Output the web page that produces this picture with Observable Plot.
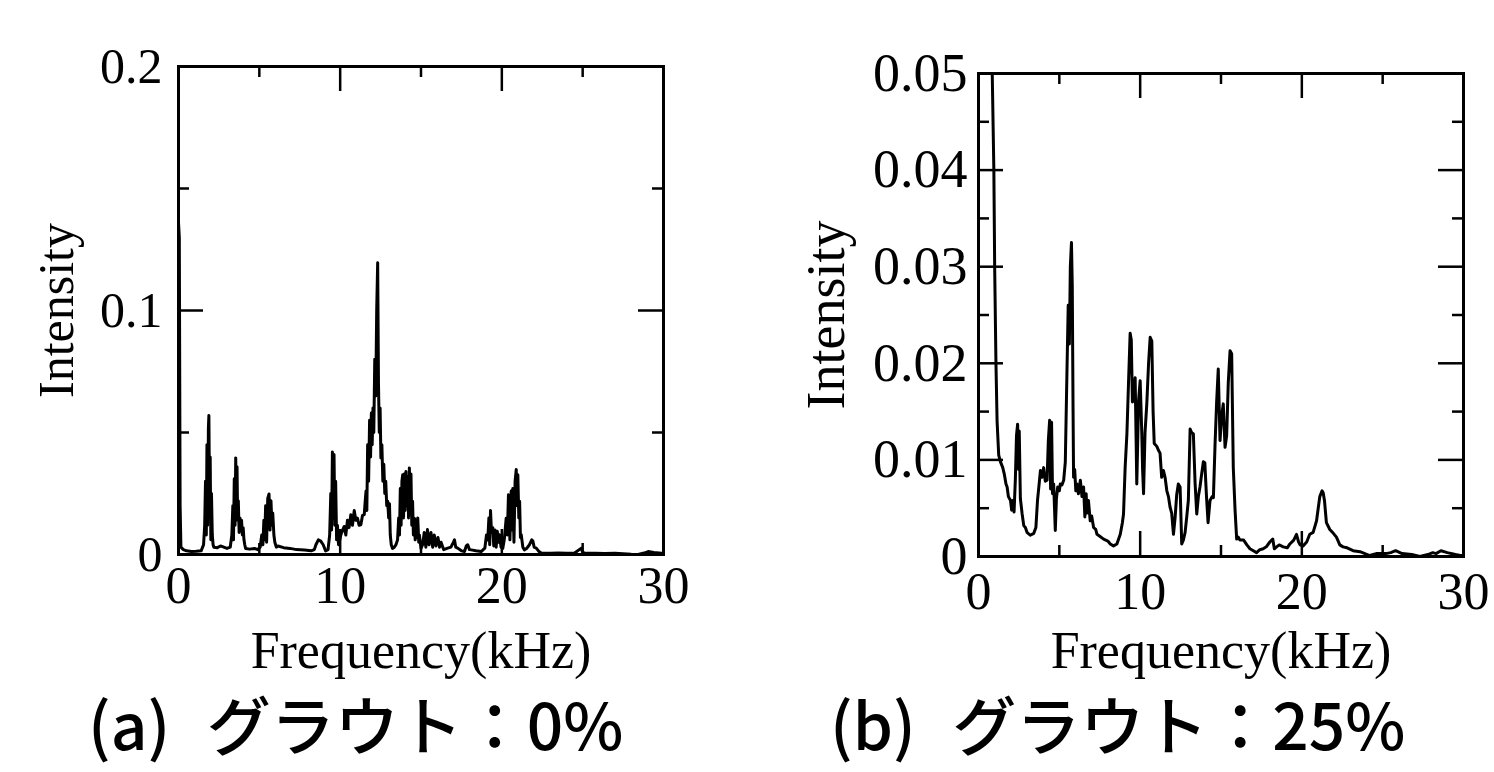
<!DOCTYPE html>
<html>
<head>
<meta charset="utf-8">
<script src="https://cdn.jsdelivr.net/npm/d3@7"></script>
<script src="https://cdn.jsdelivr.net/npm/@observablehq/plot@0.6"></script>
<style>
html, body { margin: 0; padding: 0; background: #fff; }
#wrap { position: relative; width: 1494px; height: 772px; overflow: hidden; background: #fff; }
.panel { position: absolute; top: 0; }
.cap { position: absolute; font-family: "Noto Sans CJK JP", sans-serif; font-weight: 500; font-size: 64px; line-height: 0.8; white-space: nowrap; color: #000; word-spacing: 22px; }
</style>
</head>
<body>
<div id="wrap">
  <div id="pa" class="panel" style="left:0px"></div>
  <div id="pb" class="panel" style="left:747px"></div>
  <div class="cap" style="left:88px; top:697px">(a) グラウト：0%</div>
  <div class="cap" style="left:830px; top:697px">(b) グラウト：25%</div>
</div>
<script>
// ---- data (frequency kHz, intensity) ----
const spectrumA = [
[0,0.136],[0.05,0.13],[0.1,0.02],[0.15,0.003],[0.3,0.002],[0.5,0.0015],[0.8,0.0012],[1.1,0.0013],[1.4,0.0015],[1.55,0.004],
[1.62,0.012],[1.67,0.03],[1.72,0.008],[1.76,0.045],[1.8,0.012],[1.85,0.052],[1.88,0.057],[1.92,0.02],[1.96,0.04],[2.0,0.006],[2.04,0.025],[2.09,0.008],[2.14,0.004],[2.19,0.003],
[2.4,0.0028],[2.6,0.0035],[2.8,0.003],[3.0,0.0025],[3.2,0.003],
[3.3,0.008],[3.36,0.02],[3.4,0.006],[3.45,0.031],[3.5,0.012],[3.54,0.0396],[3.58,0.018],[3.62,0.036],[3.66,0.014],[3.7,0.022],[3.75,0.009],[3.8,0.015],[3.85,0.01],[3.9,0.014],[3.95,0.008],[4.0,0.011],[4.05,0.006],[4.1,0.004],[4.15,0.0025],
[4.4,0.0022],[4.7,0.0025],[4.9,0.002],[5.05,0.003],
[5.15,0.008],[5.22,0.004],[5.28,0.014],[5.33,0.006],[5.39,0.02],[5.45,0.005],[5.52,0.023],[5.6,0.0248],[5.66,0.01],[5.72,0.022],[5.78,0.012],[5.83,0.017],[5.9,0.008],[5.96,0.005],[6.05,0.003],[6.15,0.0035],
[6.5,0.0028],[6.9,0.0025],[7.3,0.002],[7.8,0.0018],[8.2,0.0015],[8.4,0.002],
[8.5,0.004],[8.65,0.006],[8.8,0.0055],[8.95,0.004],[9.1,0.0015],[9.25,0.002],
[9.35,0.008],[9.42,0.025],[9.47,0.01],[9.52,0.042],[9.57,0.015],[9.62,0.041],[9.67,0.012],[9.72,0.03],[9.78,0.006],[9.83,0.012],[9.9,0.004],[9.96,0.0055],[10.04,0.008],
[10.15,0.01],[10.25,0.0115],[10.35,0.008],[10.45,0.014],[10.55,0.011],[10.66,0.0163],[10.76,0.012],[10.87,0.018],[10.97,0.014],[11.07,0.0149],[11.17,0.012],[11.28,0.0122],[11.38,0.016],[11.49,0.0163],[11.55,0.022],[11.6,0.026],[11.65,0.018],[11.7,0.045],[11.76,0.03],[11.82,0.055],[11.88,0.04],[11.93,0.058],[11.98,0.045],[12.03,0.06],[12.08,0.05],[12.14,0.08],[12.2,0.065],[12.26,0.1],[12.32,0.1196],[12.37,0.07],[12.42,0.05],[12.47,0.06],[12.52,0.0396],[12.58,0.045],[12.64,0.03],[12.7,0.037],[12.76,0.025],[12.82,0.03],[12.88,0.02],[12.94,0.0218],[13.0,0.015],[13.05,0.0208],[13.1,0.008],[13.16,0.004],[13.24,0.0025],[13.35,0.003],[13.45,0.004],[13.55,0.006],
[13.62,0.015],[13.67,0.008],[13.72,0.027],[13.77,0.012],[13.82,0.03],[13.87,0.0327],[13.92,0.015],[13.97,0.033],[14.02,0.018],[14.07,0.034],[14.12,0.02],[14.18,0.032],[14.23,0.015],[14.28,0.0355],[14.33,0.02],[14.38,0.033],[14.43,0.012],[14.48,0.0218],[14.53,0.008],[14.59,0.0149],[14.64,0.006],[14.7,0.014],[14.75,0.007],[14.8,0.015],[14.86,0.005],[14.9,0.008],[15.0,0.0025],
[15.1,0.004],[15.2,0.009],[15.3,0.003],[15.4,0.0102],[15.5,0.004],[15.62,0.009],[15.72,0.003],[15.82,0.008],[15.93,0.0035],[16.05,0.007],[16.15,0.003],[16.24,0.005],[16.4,0.002],[16.65,0.0026],[16.85,0.003],[17.0,0.005],[17.07,0.006],[17.15,0.003],[17.27,0.0026],[17.5,0.0015],[17.69,0.0012],[17.8,0.0035],[17.89,0.004],[18.0,0.002],[18.1,0.0019],[18.4,0.0015],[18.72,0.0012],[18.95,0.0026],
[19.05,0.008],[19.13,0.006],[19.2,0.015],[19.25,0.004],[19.3,0.018],[19.36,0.009],[19.44,0.011],[19.5,0.0035],[19.58,0.01],[19.65,0.003],[19.72,0.0095],[19.8,0.005],[19.86,0.0081],[19.95,0.003],[20.06,0.0026],[20.15,0.006],[20.27,0.0149],[20.34,0.008],[20.41,0.0245],[20.5,0.006],[20.58,0.026],[20.63,0.01],[20.68,0.027],[20.75,0.005],[20.82,0.03],[20.89,0.0348],[20.95,0.02],[20.99,0.0327],[21.05,0.015],[21.1,0.0218],[21.15,0.007],[21.2,0.0081],[21.3,0.003],[21.4,0.0019],[21.55,0.0026],[21.71,0.004],[21.85,0.006],[21.92,0.0055],[22.0,0.003],[22.13,0.0026],[22.3,0.0012],[22.44,0.0006],
[23.0,0.0005],[23.5,0.0006],[24.0,0.0005],[24.5,0.0006],[24.92,0.0026],[25.0,0.0008],[25.12,0.0006],[25.8,0.0005],[26.36,0.0004],[27.0,0.0005],[27.5,0.0003],[28.0,0.0001],[28.43,0.0],[28.8,0.0006],[29.05,0.0012],[29.4,0.0008],[29.88,0.0005],[30,0.0004]
];

const spectrumB = [
[0,0.3],[0.4,0.2],[0.7,0.08],[0.85,0.05],[0.95,0.04],[1.0,0.03],[1.08,0.02],[1.15,0.014],[1.25,0.0105],[1.36,0.0098],[1.5,0.0092],[1.6,0.0085],[1.7,0.0075],[1.77,0.0072],[1.85,0.0062],[1.98,0.0058],[2.05,0.0048],[2.12,0.0058],[2.2,0.0046],[2.28,0.008],[2.35,0.0125],[2.42,0.0137],[2.48,0.009],[2.52,0.013],[2.59,0.006],[2.7,0.0044],[2.8,0.0032],[2.9,0.003],[3.0,0.0025],[3.2,0.0022],[3.42,0.0024],[3.55,0.003],[3.65,0.0058],[3.75,0.0075],[3.83,0.0089],[3.93,0.0082],[4.03,0.0092],[4.13,0.0078],[4.24,0.0079],[4.32,0.012],[4.4,0.0141],[4.46,0.007],[4.52,0.0139],[4.58,0.0065],[4.65,0.0075],[4.75,0.0027],[4.82,0.006],[4.9,0.0072],[5.0,0.0068],[5.06,0.0075],[5.16,0.0074],[5.27,0.0079],[5.37,0.0098],[5.47,0.019],[5.55,0.026],[5.62,0.022],[5.68,0.03],[5.75,0.0325],[5.8,0.028],[5.85,0.015],[5.88,0.0082],[5.95,0.009],[6.02,0.0068],[6.09,0.0075],[6.18,0.0065],[6.3,0.0079],[6.4,0.0062],[6.5,0.0072],[6.58,0.0041],[6.66,0.0065],[6.71,0.0045],[6.8,0.0058],[6.91,0.0037],[7.0,0.0042],[7.12,0.003],[7.25,0.0028],[7.33,0.0023],[7.5,0.0021],[7.74,0.0018],[8.0,0.0016],[8.15,0.0013],[8.35,0.0011],[8.56,0.0013],[8.77,0.0023],[8.9,0.0035],[8.97,0.0044],[9.07,0.0092],[9.18,0.0127],[9.28,0.018],[9.38,0.0231],[9.45,0.0224],[9.52,0.016],[9.59,0.0161],[9.69,0.0185],[9.75,0.012],[9.79,0.0075],[9.85,0.012],[9.9,0.0161],[10.0,0.0182],[10.1,0.0128],[10.15,0.009],[10.21,0.0065],[10.3,0.0128],[10.41,0.0158],[10.52,0.02],[10.62,0.0227],[10.72,0.0223],[10.8,0.015],[10.87,0.0117],[11.03,0.0114],[11.13,0.011],[11.23,0.0107],[11.33,0.0082],[11.44,0.0089],[11.54,0.0082],[11.65,0.0068],[11.75,0.0062],[11.85,0.0051],[11.95,0.0045],[12.06,0.0023],[12.16,0.004],[12.26,0.0064],[12.36,0.0075],[12.47,0.0072],[12.57,0.0013],[12.67,0.0017],[12.78,0.0025],[12.88,0.0041],[12.98,0.0058],[13.09,0.0132],[13.19,0.0128],[13.29,0.0127],[13.4,0.0075],[13.5,0.0044],[13.6,0.0062],[13.7,0.0072],[13.8,0.0085],[13.91,0.0098],[14.0,0.0097],[14.1,0.0063],[14.2,0.0035],[14.32,0.0058],[14.45,0.0062],[14.53,0.0061],[14.63,0.0115],[14.73,0.016],[14.83,0.0194],[14.94,0.012],[15.04,0.0145],[15.14,0.0158],[15.25,0.0113],[15.35,0.0125],[15.45,0.018],[15.56,0.0213],[15.66,0.021],[15.76,0.0092],[15.87,0.0048],[15.97,0.0018],[16.07,0.002],[16.17,0.0017],[16.4,0.0017],[16.6,0.0012],[16.79,0.0008],[17.0,0.0006],[17.2,0.0004],[17.4,0.0007],[17.61,0.0008],[17.8,0.001],[18.02,0.0015],[18.2,0.0018],[18.3,0.0008],[18.44,0.001],[18.6,0.0012],[18.85,0.001],[19.1,0.0009],[19.26,0.0013],[19.5,0.0017],[19.67,0.0023],[19.8,0.0015],[19.9,0.0012],[20.08,0.0011],[20.3,0.0015],[20.49,0.0023],[20.7,0.0025],[20.91,0.0037],[21.11,0.0062],[21.25,0.0068],[21.32,0.0066],[21.4,0.0058],[21.52,0.0035],[21.73,0.0028],[21.95,0.0024],[22.14,0.002],[22.35,0.0012],[22.55,0.001],[22.8,0.0009],[23.17,0.0006],[23.6,0.0005],[24.2,0.0001],[24.6,0.0003],[25.2,0.0003],[25.5,0.0004],[25.8,0.0006],[26.2,0.0003],[26.8,0.0002],[27.3,0.0],[27.8,0.0002],[28.1,0.0004],[28.3,0.0003],[28.6,0.0006],[29.0,0.0004],[29.5,0.0002],[29.8,0.0001],[30,0.0001]
];

const xMajorTicks = [0, 10, 20, 30];
const xMinorTicks = [5, 15, 25];
const yMajorTicksA = [0, 0.1, 0.2];
const yMinorTicksA = [0.05, 0.15];
const yMajorTicksB = [0, 0.01, 0.02, 0.03, 0.04, 0.05];
const yMinorTicksB = [0.005, 0.015, 0.025, 0.035, 0.045];
const xLabel = "Frequency(kHz)";
const yLabel = "Intensity";

function panel(cfg) {
  const data = cfg.spectrum.map(([f, v]) => ({f, v}));
  const innerW = cfg.width - cfg.mL - cfg.mR;
  const innerH = cfg.height - cfg.mT - cfg.mB;
  const major = 25, minor = 11, tw = 2.5;
  const tk = {stroke: "black", strokeWidth: tw};
  return Plot.plot({
    width: cfg.width, height: cfg.height,
    marginLeft: cfg.mL, marginRight: cfg.mR, marginTop: cfg.mT, marginBottom: cfg.mB,
    style: {fontFamily: '"Liberation Serif", "Times New Roman", serif', fontSize: "52px", background: "white", color: "black"},
    x: {domain: [0, 30]},
    y: {domain: cfg.yDomain},
    marks: [
      Plot.line(data, {x: "f", y: "v", stroke: "black", strokeWidth: 3, clip: true}),
      Plot.tickX(xMajorTicks, {x: d => d, insetTop: innerH - major, ...tk}),
      Plot.tickX(xMajorTicks, {x: d => d, insetBottom: innerH - major, ...tk}),
      Plot.tickX(xMinorTicks, {x: d => d, insetTop: innerH - minor, ...tk}),
      Plot.tickX(xMinorTicks, {x: d => d, insetBottom: innerH - minor, ...tk}),
      Plot.tickY(cfg.yMajor, {y: d => d, insetRight: innerW - major, ...tk}),
      Plot.tickY(cfg.yMajor, {y: d => d, insetLeft: innerW - major, ...tk}),
      Plot.tickY(cfg.yMinor, {y: d => d, insetRight: innerW - minor, ...tk}),
      Plot.tickY(cfg.yMinor, {y: d => d, insetLeft: innerW - minor, ...tk}),
      Plot.frame({stroke: "black", strokeWidth: 3}),
      Plot.axisX({ticks: xMajorTicks, tickSize: 0, tickPadding: cfg.xPad, fontSize: 52,
        tickFormat: d => String(d), label: xLabel, labelAnchor: "center", labelArrow: "none", labelOffset: cfg.xLabelOffset}),
      Plot.axisY({ticks: cfg.yMajor, tickSize: 0, tickPadding: cfg.yPad, fontSize: cfg.yFont,
        tickFormat: d => String(d), label: yLabel, labelAnchor: "center", labelArrow: "none", labelOffset: cfg.yLabelOffset})
    ]
  });
}

document.getElementById("pa").appendChild(panel({
  spectrum: spectrumA, yDomain: [0, 0.2], yMajor: yMajorTicksA, yMinor: yMinorTicksA,
  width: 747, height: 694, mL: 178, mR: 84, mT: 66, mB: 140,
  xPad: 12, yPad: 16, yFont: 50, xLabelOffset: 113, yLabelOffset: 141
}));
document.getElementById("pb").appendChild(panel({
  spectrum: spectrumB, yDomain: [0, 0.05], yMajor: yMajorTicksB, yMinor: yMinorTicksB,
  width: 747, height: 694, mL: 231, mR: 31, mT: 73, mB: 138,
  xPad: 16, yPad: 11, yFont: 54, xLabelOffset: 111, yLabelOffset: 173
}));
</script>
</body>
</html>
